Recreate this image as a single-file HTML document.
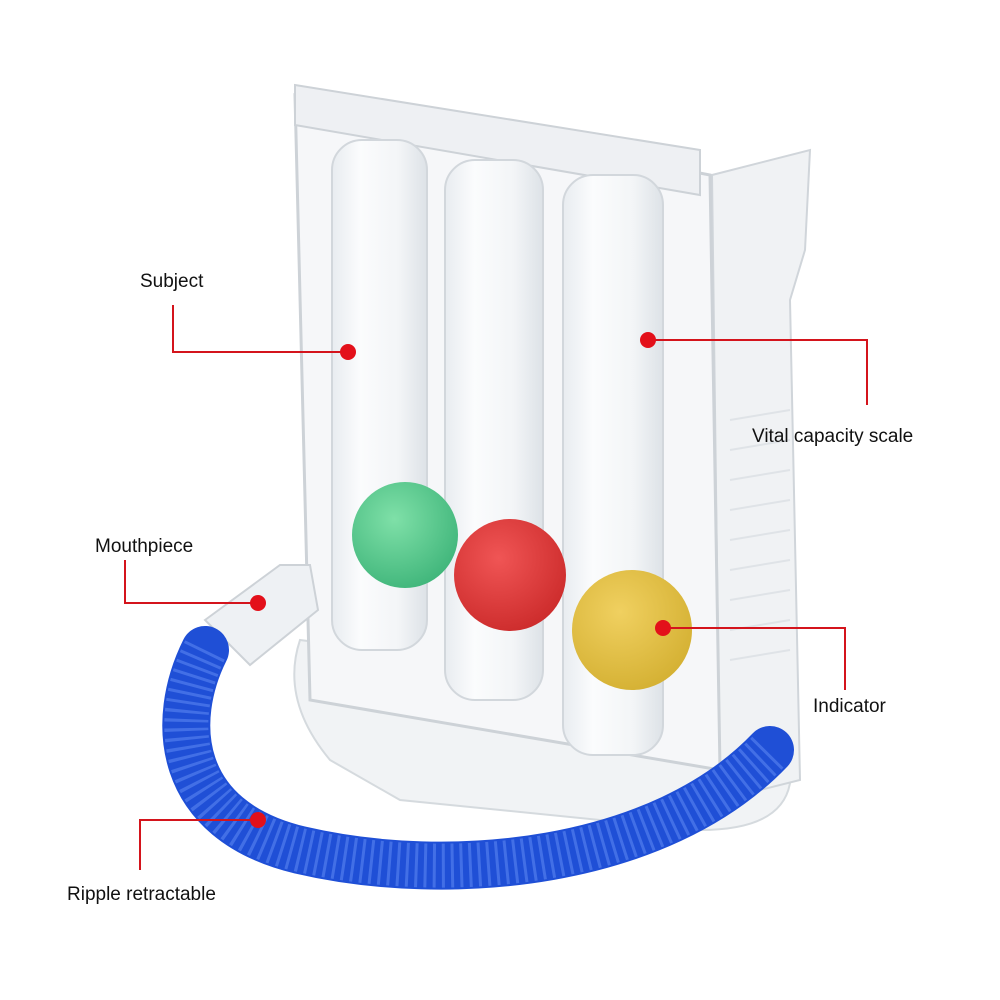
<!DOCTYPE html>
<html><head><meta charset="utf-8"><style>
html,body{margin:0;padding:0;background:#fff;}
svg{display:block}
text{font-family:"Liberation Sans",sans-serif;font-size:19px;fill:#111}
</style></head><body>
<svg width="1000" height="1000" viewBox="0 0 1000 1000" xmlns="http://www.w3.org/2000/svg">
<defs>
<radialGradient id="g" cx="40%" cy="35%" r="70%"><stop offset="0" stop-color="#7fe0a8"/><stop offset="1" stop-color="#3fb57a"/></radialGradient>
<radialGradient id="r" cx="40%" cy="35%" r="70%"><stop offset="0" stop-color="#f05555"/><stop offset="1" stop-color="#cc2b2b"/></radialGradient>
<radialGradient id="y" cx="40%" cy="35%" r="70%"><stop offset="0" stop-color="#f0d060"/><stop offset="1" stop-color="#d4b032"/></radialGradient>
<linearGradient id="tube" x1="0" x2="1"><stop offset="0" stop-color="#e8ecf0"/><stop offset="0.3" stop-color="#fbfcfd"/><stop offset="0.7" stop-color="#f3f5f7"/><stop offset="1" stop-color="#dde2e7"/></linearGradient>
</defs>
<rect width="1000" height="1000" fill="#fff"/>
<!-- base -->
<path d="M300 640 Q280 700 330 760 L400 800 L700 830 Q800 830 790 760 L760 700 Z" fill="#f1f3f5" stroke="#d5dade" stroke-width="2"/>
<!-- right pipe -->
<path d="M712 175 L810 150 L805 250 L790 300 L800 780 L720 800 Z" fill="#f0f2f4" stroke="#d0d5da" stroke-width="2"/>
<g stroke="#dfe3e7" stroke-width="2">
<line x1="730" y1="420" x2="790" y2="410"/><line x1="730" y1="450" x2="790" y2="440"/><line x1="730" y1="480" x2="790" y2="470"/><line x1="730" y1="510" x2="790" y2="500"/><line x1="730" y1="540" x2="790" y2="530"/><line x1="730" y1="570" x2="790" y2="560"/><line x1="730" y1="600" x2="790" y2="590"/><line x1="730" y1="630" x2="790" y2="620"/><line x1="730" y1="660" x2="790" y2="650"/>
</g>
<!-- main body -->
<path d="M295 95 L710 175 L720 770 L310 700 Z" fill="#f6f7f9" stroke="#cdd2d7" stroke-width="3"/>
<path d="M295 85 L700 150 L700 195 L295 125 Z" fill="#eef0f3" stroke="#cdd2d7" stroke-width="2"/>
<!-- columns -->
<rect x="332" y="140" width="95" height="510" rx="30" fill="url(#tube)" stroke="#d2d7dc" stroke-width="2"/>
<rect x="445" y="160" width="98" height="540" rx="30" fill="url(#tube)" stroke="#d2d7dc" stroke-width="2"/>
<rect x="563" y="175" width="100" height="580" rx="30" fill="url(#tube)" stroke="#d2d7dc" stroke-width="2"/>
<!-- balls -->
<circle cx="405" cy="535" r="53" fill="url(#g)"/>
<circle cx="510" cy="575" r="56" fill="url(#r)"/>
<circle cx="632" cy="630" r="60" fill="url(#y)"/>
<!-- mouthpiece -->
<path d="M205 620 L280 565 L310 565 L318 610 L250 665 Z" fill="#eef1f4" stroke="#cdd2d7" stroke-width="2"/>
<!-- blue hose -->
<path d="M205 650 C170 720 175 820 300 850 C450 885 660 865 770 750" fill="none" stroke="#1f4fd6" stroke-width="48" stroke-linecap="round"/>
<path d="M205 650 C170 720 175 820 300 850 C450 885 660 865 770 750" fill="none" stroke="#5a85f0" stroke-width="44" stroke-dasharray="3 6" opacity="0.6"/>
<!-- annotations -->
<g stroke="#d4141c" stroke-width="2" fill="none">
<polyline points="173,305 173,352 348,352"/>
<polyline points="648,340 867,340 867,405"/>
<polyline points="125,560 125,603 258,603"/>
<polyline points="663,628 845,628 845,690"/>
<polyline points="258,820 140,820 140,870"/>
</g>
<g fill="#e3101a">
<circle cx="348" cy="352" r="8"/><circle cx="648" cy="340" r="8"/><circle cx="258" cy="603" r="8"/><circle cx="663" cy="628" r="8"/><circle cx="258" cy="820" r="8"/>
</g>
<text x="140" y="287">Subject</text>
<text x="752" y="442">Vital capacity scale</text>
<text x="95" y="552">Mouthpiece</text>
<text x="813" y="712">Indicator</text>
<text x="67" y="900">Ripple retractable</text>
</svg>
</body></html>
